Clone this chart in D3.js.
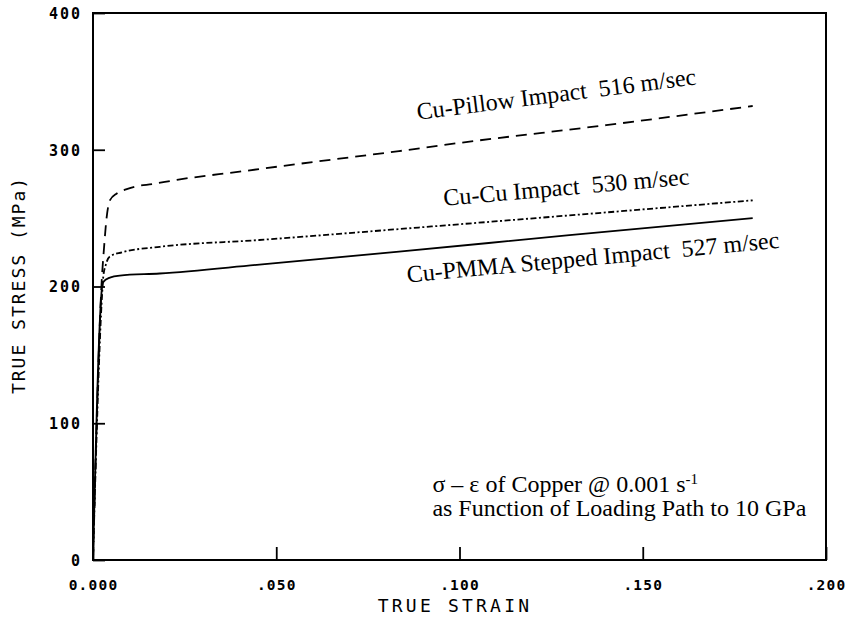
<!DOCTYPE html>
<html><head><meta charset="utf-8">
<script src="https://cdn.jsdelivr.net/npm/d3@7"></script>
<style>body{margin:0;background:#fff}</style>
</head><body><svg id="c" width="853" height="629"></svg>
<script>
const xTicks = [0, 0.05, 0.10, 0.15, 0.20];
const xTickLabels = ["0.000", ".050", ".100", ".150", ".200"];
const yTicks = [0, 100, 200, 300, 400];
const yTickLabels = ["0", "100", "200", "300", "400"];

const pillowStrain = [0, 0.0024, 0.003, 0.0037, 0.0046, 0.0065, 0.009, 0.0114, 0.0163, 0.0229, 0.04, 0.06, 0.0835, 0.10, 0.14, 0.18];
const pillowStress = [0, 205, 228, 250, 263, 268, 271, 273, 275, 278, 284, 291, 299, 305, 318, 332];

const cucuStrain = [0, 0.0025, 0.0028, 0.0035, 0.0046, 0.0079, 0.0182, 0.0454, 0.0835, 0.13, 0.18];
const cucuStress = [0, 195, 207, 216, 222, 225, 229, 234, 242, 252, 263];

const pmmaStrain = [0, 0.0027, 0.0046, 0.0073, 0.0182, 0.0454, 0.0835, 0.13, 0.18];
const pmmaStress = [0, 203, 206.5, 208, 209.5, 216, 225.5, 237.5, 250];

const seriesNames = ["Cu-Pillow Impact  516 m/sec", "Cu-Cu Impact  530 m/sec", "Cu-PMMA Stepped Impact  527 m/sec"];
const noteLine1 = ["σ – ε of Copper @ 0.001 s", "-1"];
const noteLine2 = "as Function of Loading Path to 10 GPa";
const xTitle = "TRUE STRAIN";
const yTitle = "TRUE STRESS (MPa)";

const svg = d3.select("#c");
const x = d3.scaleLinear().domain([0, 0.2]).range([93, 826]);
const y = d3.scaleLinear().domain([0, 400]).range([560, 13]);

const tickFont = "'DejaVu Sans Mono', monospace";

// x axis (inner ticks)
const xa = svg.append("g").attr("transform", `translate(0,${y(0)})`)
  .call(d3.axisBottom(x).tickValues(xTicks).tickFormat((d,i)=>xTickLabels[i]).tickSizeInner(-13).tickSizeOuter(0));
xa.select(".domain").remove();
xa.selectAll("line").attr("stroke","#000").attr("stroke-width",1.8);
xa.selectAll("text").attr("y",30).attr("dy",null)
  .attr("font-family",tickFont).attr("font-weight","bold").attr("font-size",14.5).attr("letter-spacing",1.2).attr("fill","#000");

// y axis
const ya = svg.append("g").attr("transform", `translate(${x(0)},0)`)
  .call(d3.axisLeft(y).tickValues(yTicks).tickFormat((d,i)=>yTickLabels[i]).tickSizeInner(-12).tickSizeOuter(0));
ya.select(".domain").remove();
ya.selectAll("line").attr("stroke","#000").attr("stroke-width",1.8);
ya.selectAll("text").attr("x",-11).attr("dy","0.36em")
  .attr("font-family",tickFont).attr("font-weight","bold").attr("font-size",15).attr("letter-spacing",2).attr("fill","#000");

// frame
svg.append("rect").attr("x",x(0)).attr("y",y(400)).attr("width",x(0.2)-x(0)).attr("height",y(0)-y(400))
  .attr("fill","none").attr("stroke","#000").attr("stroke-width",2);

// curves
const line = d3.line().x(d=>x(d[0])).y(d=>y(d[1])).curve(d3.curveMonotoneX);
const series = [
  {sx: pillowStrain, sy: pillowStress, dash: "11,7"},
  {sx: cucuStrain, sy: cucuStress, dash: "6,2.5,2,2.5"},
  {sx: pmmaStrain, sy: pmmaStress, dash: null}
];
series.forEach(s=>{
  const pts = s.sx.map((v,i)=>[v, s.sy[i]]);
  svg.append("path").attr("d", line(pts)).attr("fill","none").attr("stroke","#000")
    .attr("stroke-width",1.8).attr("stroke-dasharray", s.dash);
});

// curve labels
const serif = "'Liberation Serif', 'Times New Roman', serif";
const labelAnchors = [[0.0886, 322, -7.2], [0.0958, 259, -5], [0.0858, 203, -5.3]];
seriesNames.forEach((t,i)=>{
  const a = labelAnchors[i];
  svg.append("text").attr("transform",`translate(${x(a[0])},${y(a[1])}) rotate(${a[2]})`)
    .attr("font-family",serif).attr("font-size",24).attr("fill","#000")
    .style("white-space","pre").text(t);
});

// note
const n1 = svg.append("text").attr("x", x(0.0926)).attr("y", y(50))
  .attr("font-family",serif).attr("font-size",24).attr("fill","#000");
n1.append("tspan").text(noteLine1[0]);
n1.append("tspan").attr("dy",-8).attr("font-size",15).text(noteLine1[1]);
svg.append("text").attr("x", x(0.0926)).attr("y", y(32.5))
  .attr("font-family",serif).attr("font-size",24).attr("fill","#000").text(noteLine2);

// axis titles
svg.append("text").attr("x", 455).attr("y", 612).attr("text-anchor","middle")
  .attr("font-family",tickFont).attr("font-size",18).attr("letter-spacing",3.2).attr("fill","#000").text(xTitle);
svg.append("text").attr("transform","translate(25,285) rotate(-90)").attr("text-anchor","middle")
  .attr("font-family",tickFont).attr("font-size",18).attr("letter-spacing",2).attr("fill","#000").text(yTitle);
</script></body></html>
